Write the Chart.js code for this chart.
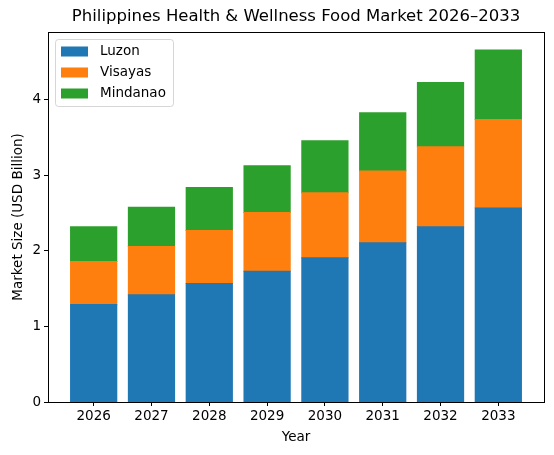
<!DOCTYPE html>
<html>
<head>
<meta charset="utf-8">
<script src="https://cdn.jsdelivr.net/npm/chart.js@4"></script>
<style>
  html, body { margin: 0; padding: 0; background: #fff; }
  #wrap { width: 554px; height: 455px; }
</style>
</head>
<body>
<div id="wrap"><canvas id="c" width="554" height="455"></canvas></div>
<script>
const years = ['2026', '2027', '2028', '2029', '2030', '2031', '2032', '2033'];
const luzon = [1.29, 1.42, 1.57, 1.73, 1.91, 2.11, 2.32, 2.57];
const visayas = [0.57, 0.64, 0.70, 0.78, 0.86, 0.95, 1.06, 1.17];
const mindanao = [0.46, 0.52, 0.57, 0.62, 0.69, 0.77, 0.85, 0.92];
const yTicks = [0, 1, 2, 3, 4];

const FONT = '"DejaVu Sans", sans-serif';
const toPts = arr => arr.map((v, i) => ({ x: i, y: v }));

// frame, title, axis titles and the in-plot legend
const decor = {
  id: 'decor',
  afterDraw(chart) {
    const { ctx, chartArea: a } = chart;
    ctx.save();
    ctx.strokeStyle = '#000';
    ctx.lineWidth = 1;
    ctx.strokeRect(Math.round(a.left) + 0.5, Math.round(a.top) + 0.5,
      Math.round(a.right - a.left), Math.round(a.bottom - a.top));

    ctx.fillStyle = '#000';
    ctx.textAlign = 'center';
    ctx.textBaseline = 'middle';
    ctx.font = '16.5px ' + FONT;
    ctx.fillText('Philippines Health & Wellness Food Market 2026\u20132033', (a.left + a.right) / 2, 17);
    ctx.font = '13.5px ' + FONT;
    ctx.fillText('Year', (a.left + a.right) / 2, 437);
    ctx.translate(18, (a.top + a.bottom) / 2);
    ctx.rotate(-Math.PI / 2);
    ctx.fillText('Market Size (USD Billion)', 0, 0);
    ctx.restore();

    // legend
    const x0 = a.left + 7, y0 = a.top + 7, w = 118, h = 67;
    ctx.save();
    ctx.globalAlpha = 0.8;
    ctx.fillStyle = '#fff';
    ctx.strokeStyle = '#ccc';
    ctx.beginPath();
    ctx.roundRect(x0 + 0.5, y0 + 0.5, w, h, 3);
    ctx.fill();
    ctx.stroke();
    ctx.globalAlpha = 1;
    ctx.font = '13.5px ' + FONT;
    ctx.textAlign = 'left';
    ctx.textBaseline = 'middle';
    chart.data.datasets.forEach((ds, i) => {
      const cy = y0 + 12.5 + i * 21;
      ctx.fillStyle = ds.backgroundColor;
      ctx.fillRect(x0 + 6, cy - 5, 27, 10);
      ctx.fillStyle = '#000';
      ctx.fillText(ds.label, x0 + 45, cy);
    });
    ctx.restore();
  }
};

new Chart(document.getElementById('c'), {
  type: 'bar',
  data: {
    datasets: [
      { label: 'Luzon', data: toPts(luzon), backgroundColor: '#1f77b4' },
      { label: 'Visayas', data: toPts(visayas), backgroundColor: '#ff7f0e' },
      { label: 'Mindanao', data: toPts(mindanao), backgroundColor: '#2ca02c' }
    ]
  },
  options: {
    responsive: false,
    animation: false,
    devicePixelRatio: 1,
    barPercentage: 0.8,
    categoryPercentage: 1,
    borderWidth: 0,
    inflateAmount: 0.5,
    layout: { padding: { top: 32, right: 10, left: 0, bottom: 0 } },
    plugins: {
      legend: { display: false },
      title: { display: false },
      tooltip: { enabled: false }
    },
    scales: {
      x: {
        type: 'linear',
        stacked: true,
        offset: false,
        min: -0.79,
        max: 7.79,
        afterBuildTicks: s => { s.ticks = years.map((_, i) => ({ value: i })); },
        afterFit: s => { s.height = 53; },
        ticks: {
          color: '#000',
          font: { family: FONT, size: 13.5 },
          padding: 2,
          maxRotation: 0,
          autoSkip: false,
          callback: v => years[v]
        },
        grid: { offset: false, drawOnChartArea: false, drawTicks: true, tickLength: 4, tickColor: '#000' },
        border: { display: false }
      },
      y: {
        stacked: true,
        min: 0,
        max: 4.9,
        afterBuildTicks: s => { s.ticks = yTicks.map(v => ({ value: v })); },
        afterFit: s => { s.width = 48; },
        ticks: {
          color: '#000',
          font: { family: FONT, size: 13.5 },
          padding: 3
        },
        grid: { drawOnChartArea: false, drawTicks: true, tickLength: 4, tickColor: '#000' },
        border: { display: false }
      }
    }
  },
  plugins: [decor]
});
</script>
</body>
</html>
